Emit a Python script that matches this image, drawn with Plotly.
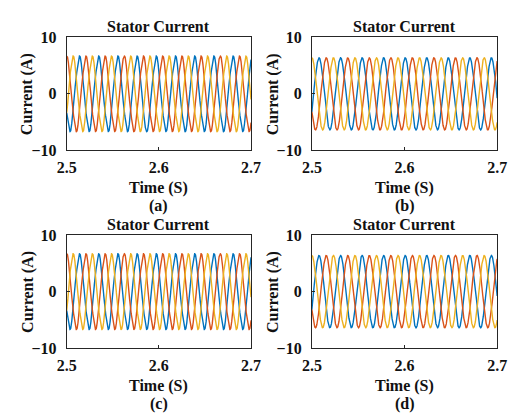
import numpy as np
import plotly.graph_objects as go

# ---- data ----
panel_labels = ["(a)", "(b)", "(c)", "(d)"]
panel_title = "Stator Current"
x_title = "Time (S)"
y_title = "Current (A)"
x_ticks = [2.5, 2.6, 2.7]
y_ticks = [-10, 0, 10]
t_start, t_end = 2.5, 2.7

# per panel: fundamental frequency (Hz), amplitude (A), 5th / 7th harmonic amplitude (A)
freq_hz = [48.0, 43.0, 48.0, 43.0]
amp_a = [6.6, 6.35, 6.6, 6.35]
h5_a = [0.30, 0.10, 0.30, 0.10]
h7_a = [0.20, 0.05, 0.20, 0.05]
# phase angle (deg) of each phase at t = 2.5 s, order: blue, orange, yellow
phase_deg = [
    [210, 90, -30],
    [-30, 210, 90],
    [210, 90, -30],
    [-30, 210, 90],
]
colors = ["#0072BD", "#D95319", "#EDB120"]

# ---- layout geometry (pixels) ----
W, H = 518, 419
boxes = [  # left, right, top, bottom
    (59, 250.7, 30.7, 148.3),
    (314, 506.7, 30.7, 148.3),
    (59, 250.7, 236.7, 354.5),
    (314, 506.7, 236.7, 354.5),
]

FONT = "Liberation Serif"
fig = go.Figure()
t = np.linspace(t_start, t_end, 3000)

for i, (l, r, tp, bt) in enumerate(boxes):
    xa = "xaxis" if i == 0 else f"xaxis{i+1}"
    ya = "yaxis" if i == 0 else f"yaxis{i+1}"
    xr = "x" if i == 0 else f"x{i+1}"
    yr = "y" if i == 0 else f"y{i+1}"
    for k in range(3):
        th = 2 * np.pi * freq_hz[i] * (t - t_start) + np.deg2rad(phase_deg[i][k])
        y = amp_a[i] * np.sin(th) + h5_a[i] * np.sin(5 * th) + h7_a[i] * np.sin(7 * th)
        fig.add_trace(go.Scatter(x=t, y=y, mode="lines", xaxis=xr, yaxis=yr,
                                 line=dict(color=colors[k], width=1.4),
                                 showlegend=False, hoverinfo="skip"))
    axis_common = dict(showline=True, mirror=True, linecolor="#262626", linewidth=1,
                       ticks="inside", ticklen=3, tickcolor="#262626",
                       showgrid=False, zeroline=False,
                       tickfont=dict(family=FONT, size=16, color="#111", weight="bold"))
    fig.layout[xa] = dict(domain=[l / W, r / W], range=[t_start, t_end],
                          tickvals=x_ticks, ticktext=[f"{v:.1f}" for v in x_ticks],
                          anchor=yr, ticklabelstandoff=3, **axis_common)
    fig.layout[ya] = dict(domain=[1 - bt / H, 1 - tp / H], range=[-10, 10],
                          tickvals=y_ticks, anchor=xr, ticklabelstandoff=6, **axis_common)
    cx = (l + r) / 2
    ann = [
        (panel_title, cx, tp - 11, 0),
        (x_title, cx, bt + 39, 0),
        (panel_labels[i], cx, bt + 58, 0),
        (y_title, l - 41, (tp + bt) / 2, -90),
    ]
    for txt, ax_, ay_, rot in ann:
        fig.add_annotation(text=txt, x=ax_ / W, y=1 - ay_ / H, xref="paper", yref="paper",
                           showarrow=False, textangle=rot, xanchor="center", yanchor="middle",
                           font=dict(family=FONT, size=16, color="#111", weight="bold"))

fig.update_layout(width=W, height=H, margin=dict(l=0, r=0, t=0, b=0),
                  paper_bgcolor="white", plot_bgcolor="white")
fig.write_html("out.html", config={"displayModeBar": False},
               post_script="document.body.style.margin='0';document.body.style.overflow='hidden';")
